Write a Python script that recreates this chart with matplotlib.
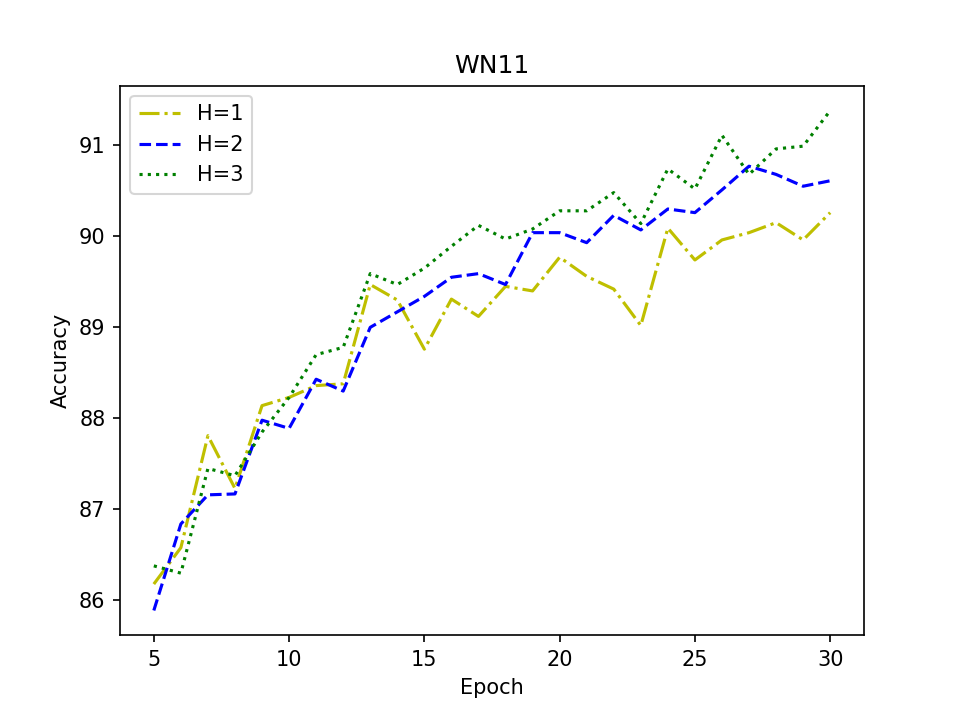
import matplotlib
matplotlib.use("Agg")
import matplotlib.pyplot as plt

epochs = list(range(5, 31))
h1 = [86.18, 86.58, 87.81, 87.23, 88.14, 88.23, 88.36, 88.38, 89.47, 89.30,
      88.76, 89.31, 89.12, 89.45, 89.40, 89.77, 89.56, 89.42, 89.02, 90.09,
      89.74, 89.96, 90.04, 90.15, 89.96, 90.26]
h2 = [85.89, 86.84, 87.16, 87.17, 87.98, 87.89, 88.43, 88.30, 89.00, 89.17,
      89.34, 89.55, 89.59, 89.47, 90.04, 90.04, 89.93, 90.23, 90.07, 90.30,
      90.26, 90.51, 90.77, 90.68, 90.55, 90.61]
h3 = [86.38, 86.30, 87.45, 87.37, 87.85, 88.23, 88.70, 88.78, 89.59, 89.47,
      89.65, 89.89, 90.12, 89.97, 90.08, 90.28, 90.28, 90.48, 90.14, 90.74,
      90.52, 91.11, 90.68, 90.96, 90.99, 91.38]
labels = ["H=1", "H=2", "H=3"]

fig, ax = plt.subplots(figsize=(6.4, 4.76), dpi=150)
ax.plot(epochs, h1, 'y-.', label=labels[0])
ax.plot(epochs, h2, 'b--', label=labels[1])
ax.plot(epochs, h3, 'g:', label=labels[2])
ax.set_title("WN11")
ax.set_xlabel("Epoch")
ax.set_ylabel("Accuracy")
ax.legend(loc="upper left")
fig.savefig("out.png", dpi=150)
